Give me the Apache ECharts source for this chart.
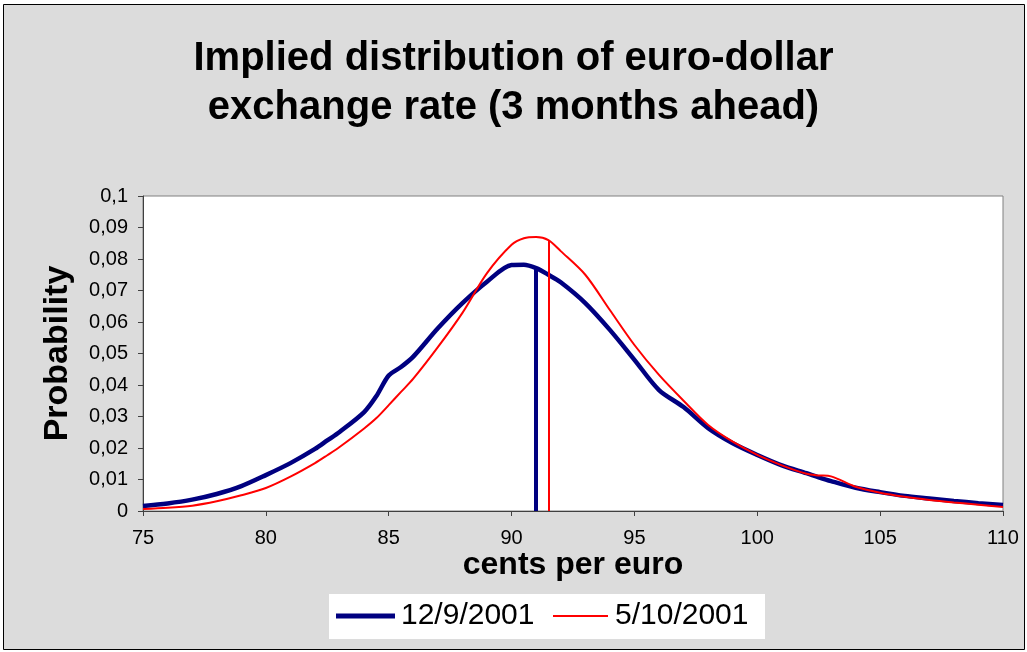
<!DOCTYPE html>
<html>
<head>
<meta charset="utf-8">
<script src="https://cdn.jsdelivr.net/npm/echarts@6/dist/echarts.min.js"></script>
<style>
  html, body { margin: 0; padding: 0; background: #ffffff; }
  #main { width: 1027px; height: 652px; }
</style>
</head>
<body>
<div id="main"></div>
<script>
// cents per euro
let xValues = [75, 76, 77, 78, 79, 80, 81, 82, 82.5, 83, 84, 84.5, 85, 85.5, 86, 87, 88, 89, 90, 90.5, 91, 91.5,
    92, 93, 94, 95, 96, 97, 98, 99, 100, 101, 102, 102.5, 103, 104, 105, 106, 107, 108, 109, 110];
// 12/9/2001
let probSep = [0.0016, 0.0024, 0.0036, 0.0054, 0.0079, 0.0114, 0.0152, 0.0197, 0.0224, 0.0251, 0.0314, 0.0365, 0.043, 0.0457, 0.049, 0.058, 0.066, 0.0728, 0.0781, 0.0782, 0.0771, 0.0750,
    0.0726, 0.066, 0.0575, 0.048, 0.0384, 0.033, 0.0263, 0.0215, 0.0178, 0.0145, 0.012, 0.0107, 0.0095, 0.0074, 0.006, 0.0048, 0.004, 0.0032, 0.0025, 0.0019];
// 5/10/2001
let probOct = [0.0006, 0.001, 0.0017, 0.0031, 0.005, 0.0073, 0.0109, 0.0152, 0.0177, 0.0203, 0.0262, 0.0295, 0.0336, 0.0378, 0.042, 0.052, 0.0629, 0.0755, 0.0845, 0.0866, 0.0870, 0.0860,
    0.0825, 0.075, 0.0638, 0.0527, 0.0432, 0.035, 0.0273, 0.022, 0.0178, 0.0145, 0.0118, 0.0113, 0.011, 0.0077, 0.0058, 0.0045, 0.0035, 0.0027, 0.002, 0.0013];
// vertical markers [x, height]
let markSep = [91.0, 0.0771];
let markOct = [91.5, 0.086];
let seriesNames = ['12/9/2001', '5/10/2001'];

function pairs(xs, ys) {
    return xs.map(function (x, i) { return [x, ys[i]]; });
}

const chart = echarts.init(document.getElementById('main'));

const font = 'Arial, "Liberation Sans", sans-serif';

chart.setOption({
    animation: false,
    graphic: [{
        type: 'rect',
        shape: { x: 3.5, y: 4.5, width: 1021, height: 645 },
        style: { fill: '#dcdcdc', stroke: '#000000', lineWidth: 1 },
        z: -10
    }, {
        // legend box
        type: 'rect',
        shape: { x: 329, y: 594, width: 436, height: 45 },
        style: { fill: '#ffffff' },
        z: -5
    }],
    title: {
        text: 'Implied distribution of euro-dollar\nexchange rate (3 months ahead)',
        left: 'center',
        top: 29,
        textStyle: {
            fontFamily: font,
            fontSize: 40,
            fontWeight: 'bold',
            color: '#000',
            lineHeight: 49
        }
    },
    legend: [{
        data: [{ name: seriesNames[0], icon: 'rect' }],
        left: 336,
        top: 601,
        padding: 0,
        itemWidth: 59,
        itemHeight: 5,
        textStyle: { fontFamily: font, fontSize: 30, color: '#000', padding: [0, 0, 0, 1] }
    }, {
        data: [{ name: seriesNames[1], icon: 'rect' }],
        left: 553,
        top: 601,
        padding: 0,
        itemWidth: 55,
        itemHeight: 2,
        textStyle: { fontFamily: font, fontSize: 30, color: '#000', padding: [0, 0, 0, 2] }
    }],
    grid: {
        left: 143,
        right: 24,
        top: 196,
        bottom: 141,
        show: true,
        backgroundColor: '#ffffff',
        borderColor: '#808080',
        borderWidth: 1
    },
    xAxis: {
        type: 'value',
        min: 75,
        max: 110,
        interval: 5,
        name: 'cents per euro',
        nameLocation: 'middle',
        nameGap: 38,
        nameTextStyle: { fontFamily: font, fontSize: 32, fontWeight: 'bold', color: '#000' },
        axisLine: { lineStyle: { color: '#404040', width: 1 } },
        axisTick: { show: true, length: 5, lineStyle: { color: '#404040' } },
        axisLabel: { fontFamily: font, fontSize: 20, color: '#000', margin: 17 },
        splitLine: { show: false }
    },
    yAxis: {
        type: 'value',
        min: 0,
        max: 0.1,
        interval: 0.01,
        name: 'Probability',
        nameLocation: 'middle',
        nameRotate: 90,
        nameGap: 68,
        nameTextStyle: { fontFamily: font, fontSize: 34, fontWeight: 'bold', color: '#000' },
        axisLine: { show: true, lineStyle: { color: '#404040', width: 1 } },
        axisTick: { show: true, length: 5, lineStyle: { color: '#404040' } },
        axisLabel: {
            fontFamily: font,
            fontSize: 20,
            color: '#000',
            margin: 15,
            formatter: function (v) {
                return String(+v.toFixed(2)).replace('.', ',');
            }
        },
        splitLine: { show: false }
    },
    series: [{
        name: seriesNames[0],
        type: 'line',
        data: pairs(xValues, probSep),
        smooth: 0.3,
        symbol: 'none',
        lineStyle: { color: '#000080', width: 4.5 },
        itemStyle: { color: '#000080' },
        z: 3,
        markLine: {
            silent: true,
            symbol: 'none',
            label: { show: false },
            lineStyle: { color: '#000080', width: 4, type: 'solid' },
            data: [[{ coord: [markSep[0], 0] }, { coord: [markSep[0], markSep[1]] }]]
        }
    }, {
        name: seriesNames[1],
        type: 'line',
        data: pairs(xValues, probOct),
        smooth: 0.3,
        symbol: 'none',
        lineStyle: { color: '#ff0000', width: 2 },
        itemStyle: { color: '#ff0000' },
        z: 4,
        markLine: {
            silent: true,
            symbol: 'none',
            label: { show: false },
            lineStyle: { color: '#ff0000', width: 2, type: 'solid' },
            data: [[{ coord: [markOct[0], 0] }, { coord: [markOct[0], markOct[1]] }]]
        }
    }]
});
</script>
</body>
</html>
